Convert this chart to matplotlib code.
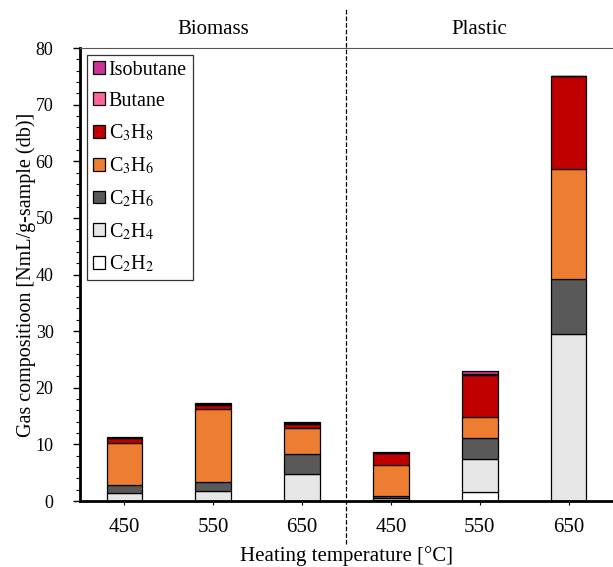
import numpy as np
import matplotlib
matplotlib.use('Agg')
import matplotlib.pyplot as plt
from matplotlib.ticker import MultipleLocator

plt.rcParams['font.family'] = ['Liberation Serif', 'DejaVu Serif']
plt.rcParams['mathtext.fontset'] = 'stix'

# Heating temperatures for each feedstock
temps = ['450', '550', '650', '450', '550', '650']
groups = ['Biomass', 'Plastic']

# Gas yields [NmL/g-sample (db)], stacked bottom -> top
c2h2 = [0.05, 0.05, 0.05, 0.2, 1.6, 0.0]
c2h4 = [1.4, 1.65, 4.8, 0.3, 5.9, 29.5]
c2h6 = [1.35, 1.7, 3.5, 0.4, 3.65, 9.7]
c3h6 = [7.5, 12.9, 4.5, 5.4, 3.7, 19.4]
c3h8 = [0.85, 0.7, 0.8, 2.1, 7.35, 16.5]
butane = [0.05, 0.1, 0.1, 0.1, 0.2, 0.0]
isobutane = [0.1, 0.15, 0.15, 0.2, 0.55, 0.0]

series = [c2h2, c2h4, c2h6, c3h6, c3h8, butane, isobutane]
labels = [r'C$_2$H$_2$', r'C$_2$H$_4$', r'C$_2$H$_6$', r'C$_3$H$_6$',
          r'C$_3$H$_8$', 'Butane', 'Isobutane']
colors = ['#FFFFFF', '#E6E6E6', '#595959', '#ED7D31', '#C00000',
          '#FF6699', '#CC3399']

fig = plt.figure(figsize=(6.13, 5.67), dpi=100)
ax = fig.add_axes([0.1305, 0.1164, 0.8695, 0.7989])

x = np.arange(len(temps))
bottom = np.zeros(len(temps))
handles = []
for vals, lab, col in zip(series, labels, colors):
    vals = np.array(vals)
    b = ax.bar(x, vals, width=0.4, bottom=bottom, color=col,
               edgecolor='black', linewidth=0.9, label=lab, zorder=2)
    handles.append(b)
    bottom += vals

ax.set_xlim(-0.5, 5.5)
ax.set_ylim(0, 80)
ax.set_xticks(x)
ax.set_xticklabels(temps)
ax.yaxis.set_major_locator(MultipleLocator(10))
ax.yaxis.set_minor_locator(MultipleLocator(2))
ax.tick_params(axis='y', which='major', direction='out', length=5, width=1, labelsize=13, pad=14)
ax.tick_params(axis='y', which='minor', direction='out', length=3, width=0.8)
ax.tick_params(axis='x', which='major', direction='out', length=3, width=0.8, labelsize=15, pad=9)

for s in ['left', 'bottom']:
    ax.spines[s].set_linewidth(2)
ax.spines['top'].set_linewidth(0.8)
ax.spines['top'].set_color('#555555')
ax.spines['right'].set_visible(False)

ax.set_xlabel('Heating temperature [°C]', fontsize=15, labelpad=7)
ax.set_ylabel('Gas compositioon [NmL/g-sample (db)]', fontsize=14.5, labelpad=0)

# group separator and feedstock labels above the plot
ax.plot([2.5, 2.5], [-0.095, 1.088], transform=ax.get_xaxis_transform(),
        color='black', linestyle='--', linewidth=0.9, clip_on=False, zorder=3)
for i, g in enumerate(groups):
    ax.text(1 + 3 * i, 1.04, g, transform=ax.get_xaxis_transform(),
            ha='center', va='center', fontsize=15)

leg = ax.legend(handles[::-1], labels[::-1], loc='upper left',
                bbox_to_anchor=(0.0, 1.0), fontsize=14.5, frameon=True,
                fancybox=False, edgecolor='black', handlelength=0.6,
                handleheight=0.6, handletextpad=0.2, labelspacing=0.6,
                borderpad=0.28, borderaxespad=0.35)
leg.get_frame().set_linewidth(0.9)

fig.savefig('out.png', dpi=100)
